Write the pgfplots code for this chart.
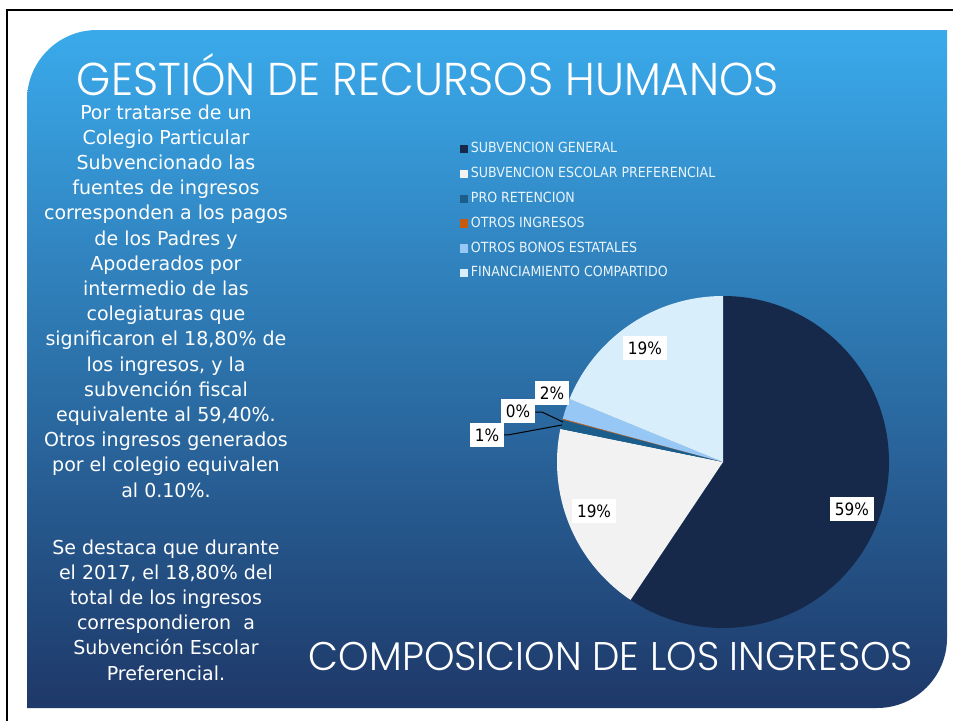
\documentclass[border=0pt]{standalone}
\usepackage{fontspec}
\setmainfont{DejaVu Sans Condensed}
\newfontfamily\titlefont{Poppins}[UprightFont=* Light]
\usepackage{pgfplots}
\pgfplotsset{compat=1.18}
\definecolor{cSG}{HTML}{16294A}
\definecolor{cSEP}{HTML}{F2F2F2}
\definecolor{cPR}{HTML}{1B5E8C}
\definecolor{cOI}{HTML}{C55A11}
\definecolor{cOB}{HTML}{97C8F5}
\definecolor{cFC}{HTML}{D9EEFB}
\definecolor{bgtop}{RGB}{58,170,235}
\definecolor{bgmid}{RGB}{40,118,178}
\definecolor{bgbot}{RGB}{30,56,104}
\definecolor{legtext}{HTML}{EAF4FC}
\newcommand\slice[3]{\fill[#1] (axis cs:0,0) -- (axis cs:{cos(90-3.6*#2)},{sin(90-3.6*#2)}) arc[start angle={90-3.6*#2}, end angle={90-3.6*(#2+#3)}, radius=83pt] -- cycle;}
\begin{document}
\begin{tikzpicture}[x=0.5pt,y=0.5pt]
\useasboundingbox (0,0) rectangle (953,720);
\fill[white] (0,0) rectangle (953,720);
\shade[top color=bgtop, middle color=bgmid, bottom color=bgbot] (27,12) -- (27,620) arc[start angle=180,end angle=90,radius=35pt] -- (947,690) -- (947,82) arc[start angle=0,end angle=-90,radius=35pt] -- cycle;
\draw[line width=1.1pt] (7,-5) -- (7,710) -- (960,710);
\node[white, font=\titlefont\fontsize{23}{23}\selectfont, anchor=base, inner sep=0pt] at (428,625) {\scalebox{0.952}[1]{GESTIÓN DE RECURSOS HUMANOS}};
\node[white, font=\titlefont\fontsize{20}{20}\selectfont, anchor=base, inner sep=0pt] at (611,50) {\scalebox{0.971}[1]{COMPOSICION DE LOS INGRESOS}};
\node[white, font=\fontsize{9.6}{12.6}\selectfont, anchor=north, inner sep=0pt] at (166,619) {\scalebox{1.10}[1]{\begin{tabular}{@{}c@{}}Por tratarse de un\\
Colegio Particular\\
Subvencionado las\\
fuentes de ingresos\\
corresponden a los pagos\\
de los Padres y\\
Apoderados por\\
intermedio de las\\
colegiaturas que\\
significaron el 18,80\% de\\
los ingresos, y la\\
subvención fiscal\\
equivalente al 59,40\%.\\
Otros ingresos generados\\
por el colegio equivalen\\
al 0.10\%.\\[15.9pt]
Se destaca que durante\\
el 2017, el 18,80\% del\\
total de los ingresos\\
correspondieron\ \ a\\
Subvención Escolar\\
Preferencial.\end{tabular}}};
\begin{axis}[at={(361.5pt,129pt)}, anchor=origin, x=83pt, y=83pt,
  xmin=-1.6, xmax=1.1, ymin=-1.05, ymax=1.05, hide axis, clip=false,
  legend image code/.code={\fill[#1] (0pt,-2.1pt) rectangle (4.2pt,2.1pt);},
  legend cell align=left,
  legend style={at={(axis description cs:0.004,1.426)}, anchor=north west, draw=none, fill=none,
    font=\fontsize{7}{8}\selectfont, text=legtext, row sep=2.7pt, inner sep=0pt,
    nodes={inner sep=1.5pt}}]
\addlegendimage{fill=cSG, draw=none}\addlegendentry{SUBVENCION GENERAL}
\addlegendimage{fill=cSEP, draw=none}\addlegendentry{SUBVENCION ESCOLAR PREFERENCIAL}
\addlegendimage{fill=cPR, draw=none}\addlegendentry{PRO RETENCION}
\addlegendimage{fill=cOI, draw=none}\addlegendentry{OTROS INGRESOS}
\addlegendimage{fill=cOB, draw=none}\addlegendentry{OTROS BONOS ESTATALES}
\addlegendimage{fill=cFC, draw=none}\addlegendentry{FINANCIAMIENTO COMPARTIDO}
\slice{cSG}{0}{59.4}
\slice{cSEP}{59.4}{18.8}
\slice{cPR}{78.2}{0.9}
\slice{cOI}{79.1}{0.1}
\slice{cOB}{79.2}{2.0}
\slice{cFC}{81.2}{18.8}
\draw[black, line width=0.5pt] (axis cs:-1.131,0.301) -- (axis cs:-1.090,0.301) -- (axis cs:-0.964,0.241);
\draw[black, line width=0.5pt] (axis cs:-1.331,0.163) -- (axis cs:-1.295,0.163) -- (axis cs:-0.970,0.223);
\tikzset{lbl/.style={fill=white, text=black, font=\fontsize{8.5}{9}\selectfont, inner xsep=2.5pt, inner ysep=3pt}}
\node[lbl] at (axis cs:0.777,-0.283) {59\%};
\node[lbl] at (axis cs:-0.777,-0.295) {19\%};
\node[lbl] at (axis cs:-0.470,0.687) {19\%};
\node[lbl] at (axis cs:-1.030,0.416) {2\%};
\node[lbl] at (axis cs:-1.235,0.307) {0\%};
\node[lbl] at (axis cs:-1.422,0.163) {1\%};
\end{axis}
\end{tikzpicture}
\end{document}
